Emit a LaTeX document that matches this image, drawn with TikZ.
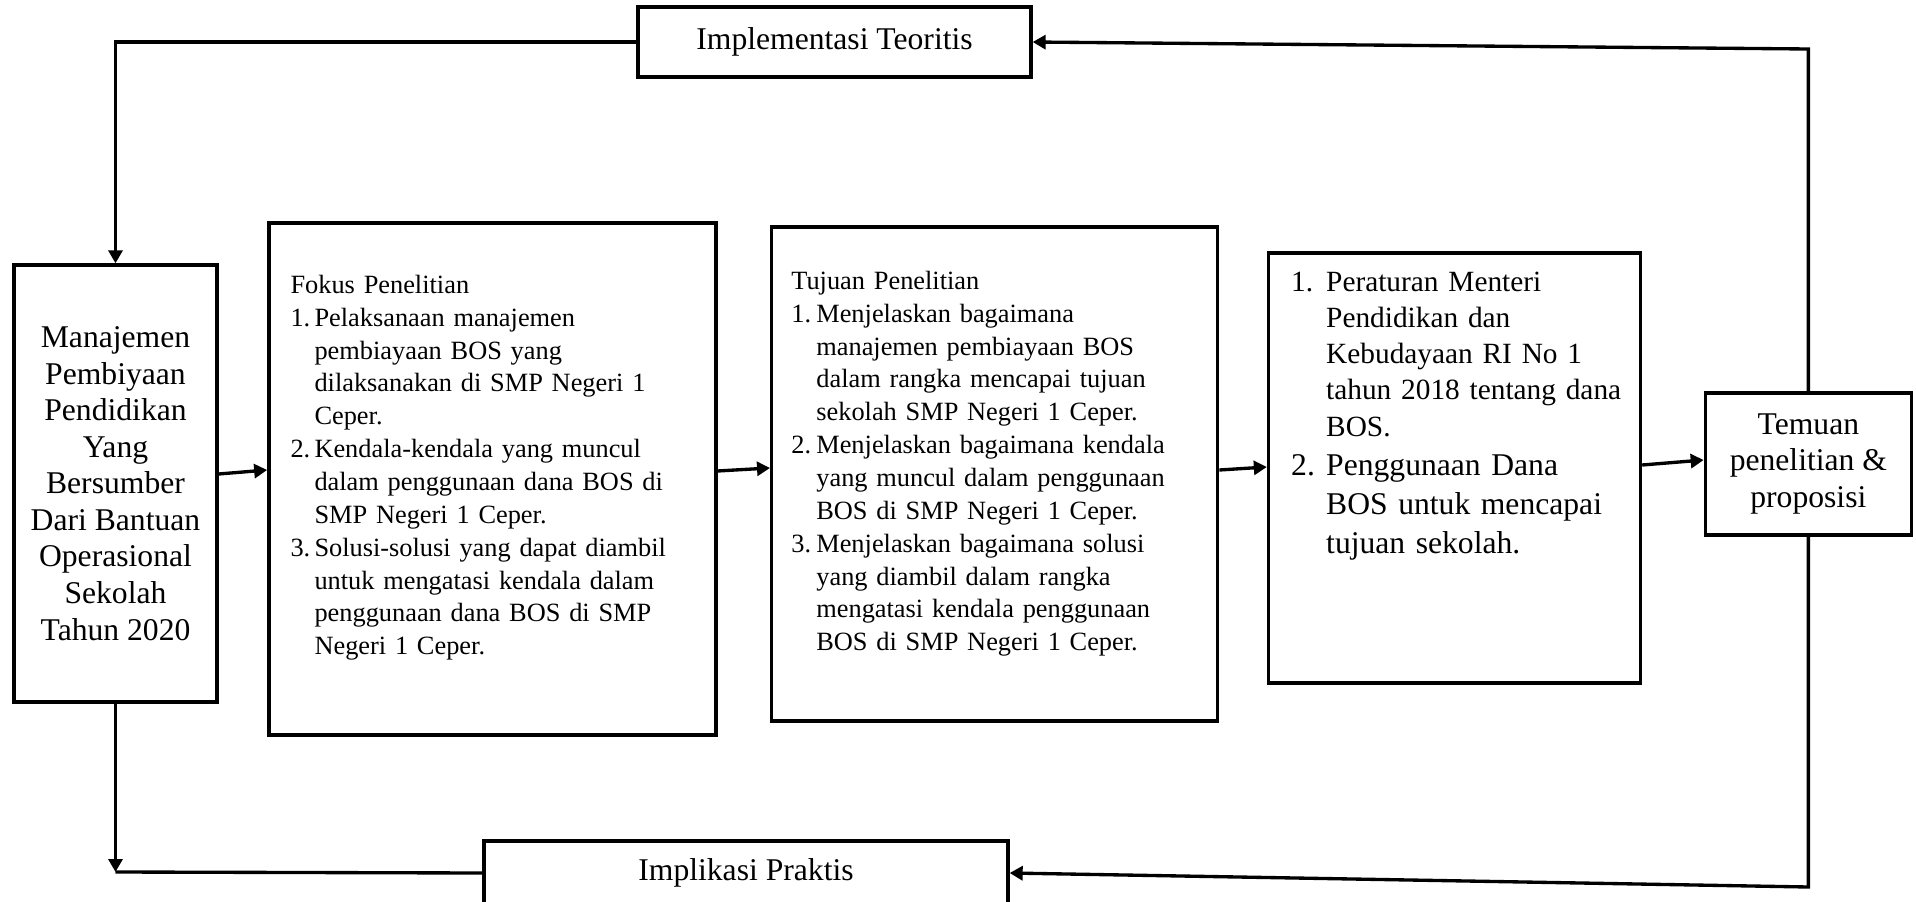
\documentclass[tikz,border=0pt]{standalone}
\usepackage{fontspec}
\setmainfont{Liberation Serif}
\usetikzlibrary{arrows.meta,positioning}

\newcommand{\itemno}[2][0.48cm]{\makebox[#1][l]{#2}}
\newcommand{\itemcont}[1][0.48cm]{\hspace*{#1}}

\begin{document}
\begin{tikzpicture}[
  box/.style={draw, line width=1.9pt, inner sep=0pt},
  txt/.style={align=left, inner sep=0pt},
  big/.style={font=\fontsize{18}{20.8}\selectfont},
  mid/.style={font=\fontsize{15}{18.7}\selectfont},
  arr/.style={-{Triangle[length=2.6mm,width=2.8mm]}, line width=1.9pt},
  link/.style={line width=1.9pt}
]
\useasboundingbox (0,0) rectangle (38.32,-18.04);
\clip (0,0) rectangle (38.32,-18.04);

% main row
\node[box, big, align=center, minimum width=4.06cm, minimum height=8.74cm] (mgmt) at (2.31,-9.67)
  {Manajemen\\Pembiyaan\\Pendidikan\\Yang\\Bersumber\\Dari Bantuan\\Operasional\\Sekolah\\Tahun 2020};
\node[box, minimum width=8.94cm, minimum height=10.24cm, right=0.97cm of mgmt, yshift=0.09cm] (fokus) {};
\node[box, minimum width=8.92cm, minimum height=9.88cm, right=1.05cm of fokus, yshift=0.10cm] (tujuan) {};
\node[box, minimum width=7.44cm, minimum height=8.60cm, right=0.95cm of tujuan, yshift=0.12cm] (aturan) {};
\node[box, big, align=center, minimum width=4.12cm, minimum height=2.84cm, right=1.23cm of aturan, yshift=0.08cm] (temuan)
  {Temuan\\penelitian \&\\proposisi};

% feedback boxes
\node[box, big, minimum width=7.86cm, minimum height=1.40cm] (teori) at (16.69,-0.84) {Implementasi Teoritis};
\node[box, big, minimum width=10.48cm, minimum height=1.28cm] (praktis) at (14.92,-17.46) {Implikasi Praktis};

% box texts
\node[txt, mid, text width=8.3cm, below right=1.44cm and 0.46cm of fokus.north west, anchor=base west] (fokustxt)
  {Fokus Penelitian\\
   \itemno{1.}Pelaksanaan manajemen\\
   \itemcont pembiayaan BOS yang\\
   \itemcont dilaksanakan di SMP Negeri 1\\
   \itemcont Ceper.\\
   \itemno{2.}Kendala-kendala yang muncul\\
   \itemcont dalam penggunaan dana BOS di\\
   \itemcont SMP Negeri 1 Ceper.\\
   \itemno{3.}Solusi-solusi yang dapat diambil\\
   \itemcont untuk mengatasi kendala dalam\\
   \itemcont penggunaan dana BOS di SMP\\
   \itemcont Negeri 1 Ceper.};
\node[txt, mid, text width=8.4cm, below right=1.28cm and 0.42cm of tujuan.north west, anchor=base west] (tujuantxt)
  {Tujuan Penelitian\\
   \itemno[0.5cm]{1.}Menjelaskan bagaimana\\
   \itemcont[0.5cm]manajemen pembiayaan BOS\\
   \itemcont[0.5cm]dalam rangka mencapai tujuan\\
   \itemcont[0.5cm]sekolah SMP Negeri 1 Ceper.\\
   \itemno[0.5cm]{2.}Menjelaskan bagaimana kendala\\
   \itemcont[0.5cm]yang muncul dalam penggunaan\\
   \itemcont[0.5cm]BOS di SMP Negeri 1 Ceper.\\
   \itemno[0.5cm]{3.}Menjelaskan bagaimana solusi\\
   \itemcont[0.5cm]yang diambil dalam rangka\\
   \itemcont[0.5cm]mengatasi kendala penggunaan\\
   \itemcont[0.5cm]BOS di SMP Negeri 1 Ceper.};
\node[txt, font=\fontsize{16.7}{20.6}\selectfont, text width=6.8cm, below right=0.80cm and 0.48cm of aturan.north west, anchor=base west] (aturan1)
  {\itemno[0.7cm]{1.}Peraturan Menteri\\
   \itemcont[0.7cm]Pendidikan dan\\
   \itemcont[0.7cm]Kebudayaan RI No 1\\
   \itemcont[0.7cm]tahun 2018 tentang dana\\
   \itemcont[0.7cm]BOS.};
\node[txt, font=\fontsize{18}{22.1}\selectfont, text width=6.8cm, below right=4.48cm and 0.48cm of aturan.north west, anchor=base west] (aturan2)
  {\itemno[0.7cm]{2.}Penggunaan Dana\\
   \itemcont[0.7cm]BOS untuk mencapai\\
   \itemcont[0.7cm]tujuan sekolah.};

% forward arrows
\draw[arr] ([yshift=0.19cm]mgmt.east) -- ([yshift=0.18cm]fokus.west);
\draw[arr] ([yshift=0.16cm]fokus.east) -- ([yshift=0.12cm]tujuan.west);
\draw[arr] ([yshift=0.08cm]tujuan.east) -- ([yshift=0.02cm]aturan.west);
\draw[arr] ([yshift=0.06cm]aturan.east) -- ([yshift=0.08cm]temuan.west);

% loop back over the top
\coordinate (tr) at (temuan.north |- 0,-0.98);
\coordinate (tl) at (mgmt.north |- teori.west);
\draw[arr] (temuan.north) -- (tr) -- (teori.east);
\draw[arr] (teori.west) -- (tl) -- (mgmt.north);

% loop back under the bottom
\coordinate (br) at (temuan.south |- 0,-17.74);
\coordinate (bl) at (mgmt.south |- 0,-17.44);
\draw[arr] (temuan.south) -- (br) -- (praktis.east);
\draw[arr] (mgmt.south) -- (bl);
\draw[link] (praktis.west) -- (bl);
\end{tikzpicture}
\end{document}
